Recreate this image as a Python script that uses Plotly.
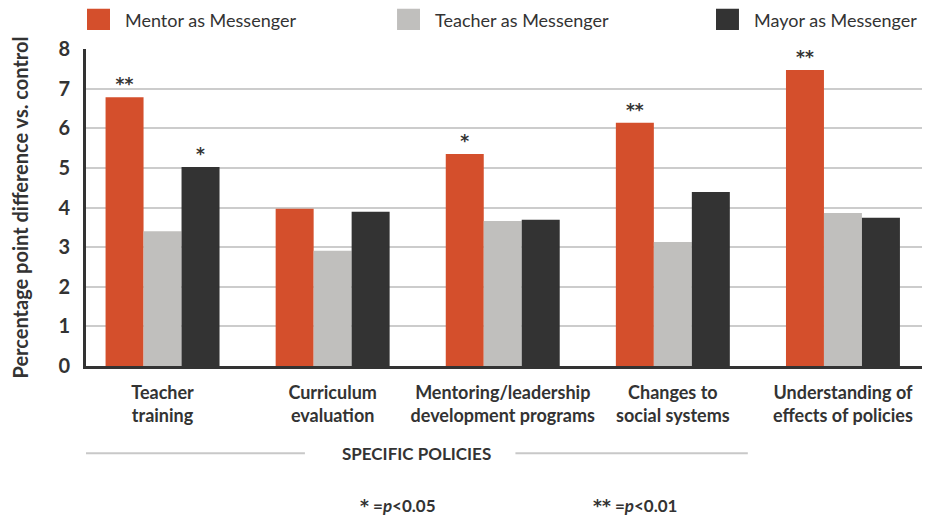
import plotly.graph_objects as go

categories = ["Teacher<br>training", "Curriculum<br>evaluation", "Mentoring/leadership<br>development programs",
              "Changes to<br>social systems", "Understanding of<br>effects of policies"]
series_names = ["Mentor as Messenger", "Teacher as Messenger", "Mayor as Messenger"]
mentor = [6.78, 3.97, 5.35, 6.14, 7.47]
teacher = [3.40, 2.91, 3.66, 3.13, 3.86]
mayor = [5.02, 3.89, 3.69, 4.39, 3.74]
mentor_sig = ["**", "", "*", "**", "**"]
teacher_sig = ["", "", "", "", ""]
mayor_sig = ["*", "", "", "", ""]
colors = ["#D44F2C", "#C0BFBD", "#333333"]
y_ticks = [0, 1, 2, 3, 4, 5, 6, 7, 8]

FONT = "Lato"
TXT = "#333333"
fig = go.Figure()
for name, vals, sig, col in zip(series_names, [mentor, teacher, mayor],
                                [mentor_sig, teacher_sig, mayor_sig], colors):
    fig.add_trace(go.Bar(
        x=categories, y=vals, name=name, marker=dict(color=col, line=dict(width=0)),
        text=sig, textposition="outside", cliponaxis=False,
        textfont=dict(family="DejaVu Sans", size=17, color=TXT, weight="bold"),
    ))

# the page body has an 8px margin, so the figure is sized 8px smaller on each axis
fig.update_layout(
    width=922, height=510,
    margin=dict(l=78, r=2, t=41, b=152, autoexpand=False),
    paper_bgcolor="white", plot_bgcolor="white",
    barmode="group", bargap=0.33, bargroupgap=0,
    font=dict(family=FONT, color=TXT),
    showlegend=False,
    xaxis=dict(range=[-0.45, 4.5], showline=True, linecolor=TXT, linewidth=3, automargin=False,
               tickfont=dict(family=FONT, size=18, color=TXT, weight="bold"),
               ticks="", showgrid=False, ticklabelstandoff=8),
    yaxis=dict(range=[0, 8], tickvals=y_ticks, showline=True, linecolor=TXT, linewidth=3,
               automargin=False,
               gridcolor="#CCCCCC", gridwidth=2, zeroline=False,
               tickfont=dict(family=FONT, size=20, color=TXT, weight="bold"),
               ticks="", ticklabelstandoff=9,
               title=dict(text="Percentage point difference vs. control", standoff=30,
                          font=dict(family=FONT, size=20, color=TXT, weight="bold"))),
)

# Legend drawn as layout items, one per series
leg_x0 = [0.0012, 0.3694, 0.7482]
for name, col, x0 in zip(series_names, colors, leg_x0):
    fig.add_shape(type="rect", xref="paper", yref="paper", x0=x0, x1=x0 + 0.0273,
                  y0=1.060, y1=1.127, fillcolor=col, line=dict(width=0))
    fig.add_annotation(text=name, xref="paper", yref="paper", x=x0 + 0.0427, y=1.093,
                       xanchor="left", yanchor="middle", showarrow=False,
                       font=dict(family=FONT, size=18, color=TXT))

# Group label with rules
fig.add_annotation(text="SPECIFIC POLICIES", xref="paper", yref="paper", x=0.392, y=-0.275,
                   yanchor="middle", showarrow=False,
                   font=dict(family=FONT, size=17, color=TXT, weight="bold"))
fig.add_shape(type="line", xref="paper", yref="paper", x0=0.0, x1=0.26, y0=-0.275, y1=-0.275,
              line=dict(color="#C8C8C8", width=2))
fig.add_shape(type="line", xref="paper", yref="paper", x0=0.51, x1=0.786, y0=-0.275, y1=-0.275,
              line=dict(color="#C8C8C8", width=2))

# Footnotes
fig.add_annotation(text="<span style='font-family:DejaVu Sans'>*</span> =<i>p</i><0.05",
                   xref="paper", yref="paper",
                   x=0.323, y=-0.44, yanchor="middle", showarrow=False,
                   font=dict(family=FONT, size=17, color=TXT, weight="bold"))
fig.add_annotation(text="<span style='font-family:DejaVu Sans'>**</span> =<i>p</i><0.01",
                   xref="paper", yref="paper",
                   x=0.652, y=-0.44, yanchor="middle", showarrow=False,
                   font=dict(family=FONT, size=17, color=TXT, weight="bold"))

fig.write_html("out.html")
